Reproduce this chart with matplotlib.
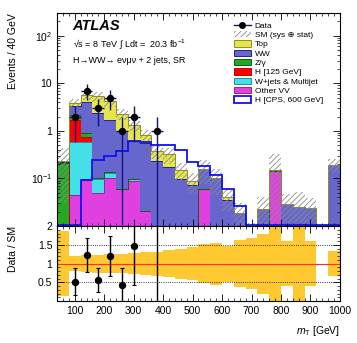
import numpy as np
import matplotlib
matplotlib.use('Agg')
import matplotlib.pyplot as plt
from matplotlib.patches import Patch
from matplotlib.lines import Line2D
from matplotlib.ticker import MultipleLocator, FixedLocator, FuncFormatter, LogLocator, NullFormatter

plt.rcParams['font.family'] = ['Liberation Sans', 'DejaVu Sans']
plt.rcParams['mathtext.fontset'] = 'custom'
plt.rcParams['mathtext.rm'] = 'Liberation Sans'
plt.rcParams['mathtext.it'] = 'Liberation Sans:italic'
plt.rcParams['mathtext.bf'] = 'Liberation Sans:bold'
plt.rcParams['hatch.linewidth'] = 0.6

# binning: 40 GeV bins from 40 to 1000
edges = np.arange(40, 1001, 40)
centers = 0.5 * (edges[:-1] + edges[1:])

# stacked backgrounds, bottom to top
other_vv = [0, 0.045, 0.095, 0.05, 0.103, 0.059, 0.088, 0.021, 0, 0, 0, 0,
            0.06, 0, 0, 0, 0, 0, 0.142, 0, 0, 0, 0, 0]
wjets = [0, 0.525, 0.485, 0.045, 0.027, 0, 0.007, 0, 0, 0, 0, 0,
         0, 0, 0, 0, 0, 0, 0, 0, 0, 0, 0, 0]
h125 = [0, 1.15, 0.16, 0.005, 0.008, 0, 0, 0, 0, 0, 0, 0,
        0, 0, 0, 0, 0, 0, 0, 0, 0, 0, 0, 0]
zgamma = [0.21, 0.46, 0.17, 0, 0, 0, 0, 0, 0, 0, 0, 0,
          0, 0, 0, 0, 0, 0, 0, 0, 0, 0, 0, 0]
ww = [0.015, 1.09, 3.09, 2.27, 1.58, 0.94, 0.525, 0.53, 0.23, 0.17, 0.095, 0.072,
      0.095, 0.10, 0.035, 0.019, 0.007, 0.023, 0.012, 0.029, 0.025, 0.024, 0, 0.19]
top = [0.005, 0.56, 1.7, 2.93, 2.43, 1.3, 0.73, 0.25, 0.14, 0.15, 0.055, 0.016,
       0.005, 0, 0.005, 0, 0, 0, 0, 0, 0, 0, 0, 0]

# relative uncertainty on SM (sys + stat)
sm_err = [0.87, 0.2, 0.23, 0.24, 0.25, 0.26, 0.27, 0.3, 0.32, 0.36, 0.4, 0.45,
          0.52, 0.56, 0.48, 0.62, 0.68, 0.8, 1.1, 0.6, 1.1, 0.6, 0, 0.33]

h600 = [0, 0, 0.095, 0.24, 0.30, 0.38, 0.62, 0.57, 0.51, 0.51, 0.40, 0.22,
        0.18, 0.12, 0.06, 0.027, 0, 0, 0, 0, 0, 0, 0, 0]

data = [0, 2, 7, 3, 5, 1, 2, 0, 1, 0, 0, 0, 0, 0, 0, 0, 0, 0, 0, 0, 0, 0, 0, 0]

stack = [(other_vv, '#e040e0', '#a020a0'),
         (wjets, '#44e0e8', '#2090a0'),
         (h125, '#ff0000', '#c00000'),
         (zgamma, '#22aa22', '#106010'),
         (ww, '#6666cc', '#222288'),
         (top, '#e6e64c', '#909020')]

fig = plt.figure(figsize=(3.57, 3.43), dpi=100)
ax = fig.add_axes([0.160, 0.341, 0.792, 0.621])
rax = fig.add_axes([0.160, 0.122, 0.792, 0.219], sharex=ax)

floor = 1e-4
base = np.full(len(centers), floor)
for vals, fc, ec in stack:
    newtop = base + np.array(vals)
    ax.stairs(newtop, edges, baseline=base, fill=True, color=fc, lw=0)
    ax.stairs(newtop, edges, baseline=None, color=ec, lw=0.7)
    base = newtop
total = base - floor

err = np.array(sm_err)
lo = np.maximum(total * (1 - err), floor)
hi = total * (1 + err)
ax.bar(edges[:-1], hi - lo, bottom=lo, width=40, align='edge', fill=False,
       hatch='//////', edgecolor='#8c8c8c', linewidth=0)

# signal outline sits on the bottom of the frame where it is empty
ax.stairs(np.maximum(h600, 0.0104), edges, baseline=0.0104, color='#1010f0', lw=1.3)

d = np.array(data, dtype=float)
m = d > 0
ax.errorbar(centers[m], d[m], xerr=20, yerr=np.sqrt(d[m]), fmt='o', color='black',
            ecolor='#101080', elinewidth=1.0, ms=4.3, capsize=0, zorder=5)

ax.set_yscale('log')
ax.set_ylim(0.01, 300)
ax.set_xlim(40, 1000)
ax.yaxis.set_major_locator(FixedLocator([0.01, 0.1, 1, 10, 100]))
ax.yaxis.set_minor_locator(LogLocator(base=10, subs=np.arange(2, 10)))
ax.yaxis.set_minor_formatter(NullFormatter())


def ylab(v, pos):
    if v == 1:
        return '1'
    if v == 10:
        return '10'
    if v == 0.01:
        return ''
    return r'$10^{%d}$' % int(round(np.log10(v)))


ax.yaxis.set_major_formatter(FuncFormatter(ylab))
ax.set_ylabel('Events / 40 GeV', fontsize=7.5, loc='top')
plt.setp(ax.get_xticklabels(), visible=False)

for a in (ax, rax):
    a.tick_params(which='both', direction='in', top=True, right=True, labelsize=7.5)
    a.tick_params(which='major', length=5, width=0.6)
    a.tick_params(which='minor', length=2.5, width=0.5)
    a.xaxis.set_major_locator(MultipleLocator(100))
    a.xaxis.set_minor_locator(MultipleLocator(20))
    for s in a.spines.values():
        s.set_linewidth(0.8)

ax.text(0.055, 0.939, 'ATLAS', transform=ax.transAxes, fontsize=10.5,
        fontweight='bold', fontstyle='italic', va='center')
ax.text(0.055, 0.854, '√s = 8 TeV ∫ Ldt =  20.3 fb$^{-1}$',
        transform=ax.transAxes, fontsize=6.5, va='center')
ax.text(0.055, 0.779, 'H→WW→ eνμν + 2 jets, SR', transform=ax.transAxes,
        fontsize=6.5, va='center')

handles = [Line2D([], [], color='#101080', marker='o', mfc='black', mec='black', ms=4, lw=1.0),
           Patch(facecolor='white', edgecolor='#8c8c8c', hatch='//////', lw=0)]
labels = ['Data', 'SM (sys ⊕ stat)']
for (vals, fc, ec), name in zip(stack[::-1], ['Top', 'WW', 'Z/γ', 'H [125 GeV]',
                                            'W+jets & Multijet', 'Other VV']):
    handles.append(Patch(facecolor=fc, edgecolor=ec, lw=0.7))
    labels.append(name)
handles.append(Patch(facecolor='white', edgecolor='#1010f0', lw=1.3))
labels.append('H [CPS, 600 GeV]')
ax.legend(handles, labels, loc='upper left', bbox_to_anchor=(0.625, 0.96),
          frameon=False, fontsize=6, labelspacing=0.15, handlelength=2.0,
          handleheight=0.8, handletextpad=0.5, borderpad=0, borderaxespad=0)

# ratio panel
band_err = np.where(total > 0, err, np.nan)
rax.bar(edges[:-1], 2 * band_err, bottom=1 - band_err, width=40, align='edge',
        color='#fdc830', linewidth=0)
rax.axhline(1, color='#ff3010', lw=0.8)
for yv in (0.5, 1.5):
    rax.axhline(yv, color='black', lw=0.6, ls=':')
ratio = d[m] / total[m]
rerr = np.sqrt(d[m]) / total[m]
rax.errorbar(centers[m], ratio, yerr=rerr, fmt='o', color='black', ms=4.3,
             elinewidth=1.0, capsize=1.5, capthick=0.8, zorder=5)
rax.set_ylim(0, 2)
rax.yaxis.set_major_locator(FixedLocator([0.5, 1, 1.5, 2]))
rax.yaxis.set_major_formatter(FuncFormatter(lambda v, p: '%g' % v))
rax.yaxis.set_minor_locator(MultipleLocator(0.1))
rax.set_ylabel('Data / SM', fontsize=7.5, loc='top')
rax.set_xlabel(r'$m_{\rm T}$ [GeV]', fontsize=7.5, loc='right')
rax.xaxis.set_label_coords(1.0, -0.31)

ax.yaxis.set_label_coords(-0.14, 1.0)
rax.yaxis.set_label_coords(-0.14, 1.0)

fig.savefig('out.png', dpi=100)
